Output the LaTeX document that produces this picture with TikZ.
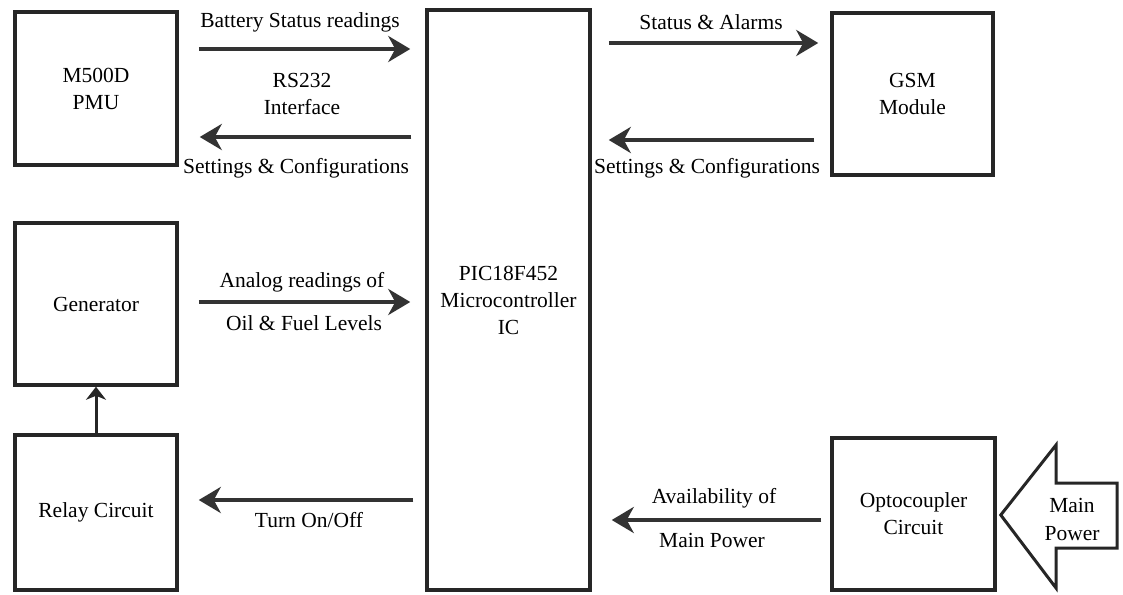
\documentclass[tikz,border=0pt]{standalone}
\usepackage{fontspec}
\setmainfont{LiberationSerif}[Extension=.ttf, UprightFont=*-Regular, BoldFont=*-Bold, ItalicFont=*-Italic, BoldItalicFont=*-BoldItalic]
\usetikzlibrary{arrows.meta}
\newcommand\labfont{\fontsize{21.5}{27}\selectfont}
\begin{document}
\begin{tikzpicture}[x=1pt,y=-1pt,
  box/.style={draw=black!85, line width=3.5pt, inner sep=0pt, align=center, font=\labfont},
  lbl/.style={inner sep=0pt, align=center, font=\labfont},
  arr/.style={draw=black!80, line width=4.5pt, -{Stealth[length=22pt,width=26pt,inset=7pt]}},
  varr/.style={draw=black!85, line width=3pt, -{Stealth[length=13pt,width=20pt,inset=4pt]}}]
\useasboundingbox (0,0) rectangle (1123,594);
\fill[white] (0,0) rectangle (1123,594);

% blocks
\node[box, minimum width=162pt, minimum height=153pt] (pmu) at (96,88.5) {M500D\\PMU};
\node[box, minimum width=163pt, minimum height=580pt] (pic) at (508.5,300) {PIC18F452\\Microcontroller\\IC};
\node[box, minimum width=161pt, minimum height=162pt] (gsm) at (912.5,94) {GSM\\Module};
\node[box, minimum width=162pt, minimum height=162pt] (gen) at (96,304) {Generator};
\node[box, minimum width=162pt, minimum height=155pt] (relay) at (96,512.5) {Relay Circuit};
\node[box, minimum width=163pt, minimum height=152pt] (opto) at (913.5,514) {Optocoupler\\Circuit};

% connectors
\draw[arr, shorten <=20pt, shorten >=15pt] (pmu.east |- 0,49) -- (pic.west |- 0,49);
\draw[arr, shorten <=14pt, shorten >=21pt] (pic.west |- 0,137) -- (pmu.east |- 0,137);
\draw[arr, shorten <=17pt, shorten >=12pt] (pic.east |- 0,43) -- (gsm.west |- 0,43);
\draw[arr, shorten <=16pt, shorten >=17pt] (gsm.west |- 0,140) -- (pic.east |- 0,140);
\draw[arr, shorten <=20pt, shorten >=15pt] (gen.east |- 0,302) -- (pic.west |- 0,302);
\draw[arr, shorten <=12pt, shorten >=20pt] (pic.west |- 0,500) -- (relay.east |- 0,500);
\draw[arr, shorten <=9pt, shorten >=20pt] (opto.west |- 0,520) -- (pic.east |- 0,520);
\draw[varr] (relay.north) -- (gen.south);

% labels
\node[lbl] (l1) at (300,22) {Battery Status readings};
\node[lbl] (l2) at (302,80) {RS232};
\node[lbl] (l3) at (302,107) {Interface};
\node[lbl] (l4) at (296,168) {Settings \& Configurations};
\node[lbl] (l5) at (711,22) {Status \& Alarms};
\node[lbl] (l6) at (707,168) {Settings \& Configurations};
\node[lbl] (l7) at (302,282) {Analog readings of};
\node[lbl] (l8) at (304,323) {Oil \& Fuel Levels};
\node[lbl] (l9) at (309,520) {Turn On/Off};
\node[lbl] (l10) at (714,498) {Availability of};
\node[lbl] (l11) at (712,540) {Main Power};

% Main Power block arrow
\coordinate (tip) at (opto.east |- 0,515);
\draw[draw=black!85, line width=3pt, line join=miter]
  ([xshift=4pt]tip) -- (1056,445) -- (1056,483) -- (1117,483) -- (1117,548)
  -- (1056,548) -- (1056,588) -- cycle;
\node[lbl, font=\fontsize{21.5}{28}\selectfont] (mp) at (1072,519) {Main\\Power};
\end{tikzpicture}
\end{document}
